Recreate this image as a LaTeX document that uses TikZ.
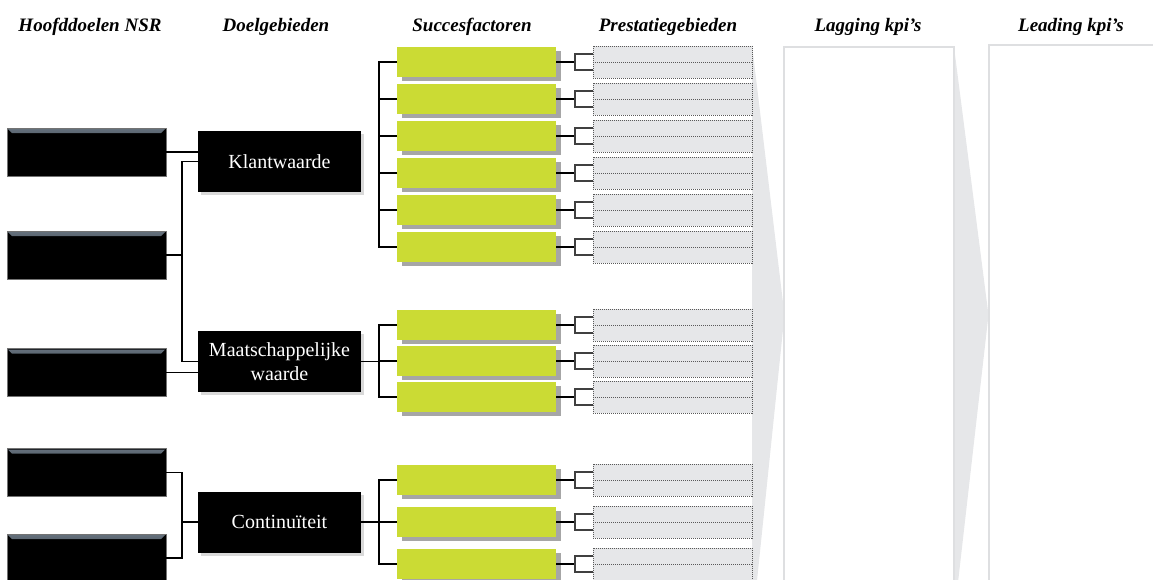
\documentclass[tikz,border=0pt]{standalone}
\usepackage{fontspec}
\setmainfont{Liberation Serif}
\usetikzlibrary{positioning,shadows}
\definecolor{lime}{HTML}{CBDB34}
\definecolor{mist}{HTML}{E6E7E9}
\definecolor{frame}{HTML}{DEDFE1}
\definecolor{bevel}{HTML}{66727E}
\tikzset{
  head/.style={font=\bfseries\itshape\fontsize{19}{22}\selectfont, anchor=base, inner sep=0pt},
  goal/.style={fill=black, draw=black!55, line width=0.7pt, minimum width=159pt, minimum height=48pt,
    path picture={\shade[top color=bevel, bottom color=black]
      ([xshift=1pt,yshift=-1pt]path picture bounding box.north west) -- ([xshift=-1pt,yshift=-1pt]path picture bounding box.north east)
      -- ([xshift=-5pt,yshift=-5pt]path picture bounding box.north east) -- ([xshift=5pt,yshift=-5pt]path picture bounding box.north west) -- cycle;}},
  area/.style={fill=black, text=white, align=center, font=\fontsize{20}{24}\selectfont, minimum width=163pt, minimum height=61pt,
    drop shadow={shadow xshift=3pt, shadow yshift=-3pt, opacity=0.3}},
  factor/.style={fill=lime, minimum width=159pt, minimum height=30pt,
    drop shadow={fill=black!35, shadow xshift=5pt, shadow yshift=-4pt, opacity=1}},
  field/.style={fill=mist, draw=black!65, dash pattern=on 1pt off 1pt, line width=0.7pt, minimum width=159pt, minimum height=32pt,
    path picture={\draw[black!65, dash pattern=on 1pt off 1pt, line width=0.7pt] (path picture bounding box.west) -- (path picture bounding box.east);}},
  panel/.style={fill=white, draw=frame, line width=1.5pt, anchor=north west},
  link/.style={line width=1.3pt},
  tick/.style={line width=1.1pt, draw=black!75}
}

\begin{document}
\begin{tikzpicture}[x=1pt, y=-1pt, inner sep=0pt, outer sep=0pt]
\useasboundingbox (0,0) rectangle (1153,579);
\clip (0,0) rectangle (1153,579);

% grey arrows behind the kpi columns
\fill[mist] (752,45) -- (784.5,315) -- (755,600) -- (752,600) -- cycle;
\fill[mist] (954,47) -- (988.5,315) -- (956,600) -- (954,600) -- cycle;
\node[panel, minimum width=170pt, minimum height=560pt] (lag) at (784,47) {};
\node[panel, minimum width=180pt, minimum height=560pt] (lead) at (989,45) {};

% column titles
\node[head] at (90,31) {Hoofddoelen NSR};
\node[head] at (276,31) {Doelgebieden};
\node[head] at (472,31) {Succesfactoren};
\node[head] at (668,31) {Prestatiegebieden};
\node[head] at (868,31) {Lagging kpi’s};
\node[head] at (1071,31) {Leading kpi’s};

% hoofddoelen
\node[goal] (hd1) at (86.5,152) {};
\node[goal] (hd2) at (86.5,255) {};
\node[goal] (hd3) at (86.5,372.5) {};
\node[goal] (hd4) at (86.5,472.5) {};
\node[goal] (hd5) at (86.5,558) {};

% doelgebieden
\node[area] (kw) at (279.5,161.5) {Klantwaarde};
\node[area] (mw) at (279.5,361.5) {Maatschappelijke\\waarde};
\node[area] (cw) at (279.5,522) {Continuïteit};

% succesfactoren
\node[factor] (f1) at (476.5,62) {};
\node[factor, below=7pt of f1] (f2) {};
\node[factor, below=7pt of f2] (f3) {};
\node[factor, below=7pt of f3] (f4) {};
\node[factor, below=7pt of f4] (f5) {};
\node[factor, below=7pt of f5] (f6) {};
\node[factor] (f7) at (476.5,325) {};
\node[factor, below=6pt of f7] (f8) {};
\node[factor, below=6pt of f8] (f9) {};
\node[factor] (f10) at (476.5,480) {};
\node[factor, below=12pt of f10] (f11) {};
\node[factor, below=12pt of f11] (f12) {};

% prestatiegebieden with their brackets
\foreach \i in {1,...,12} {
  \node[field, right=37pt of f\i] (p\i) {};
  \draw[link] (f\i.east) -- ++(19,0) coordinate (b\i);
  \draw[tick] ([yshift=8pt]p\i.west) -| (b\i) |- ([yshift=-8pt]p\i.west);
}

% hoofddoelen -> doelgebieden
\draw[link] (hd1.east) -- (hd1.east -| kw.west);
\draw[link] (kw.west) -- ++(-16,0) coordinate (s1) |- (mw.west);
\draw[link] (hd2.east) -- (hd2.east -| s1);
\draw[link] (hd3.east) -- (hd3.east -| mw.west);
\draw[link] (hd4.east) -- ++(16,0) coordinate (s2) |- (hd5.east);
\draw[link] (cw.west) -- (cw.west -| s2);

% doelgebieden -> succesfactoren
\draw[link] (f1.west) -- ++(-18,0) coordinate (t1) |- (f6.west);
\foreach \i in {2,...,5}
  \draw[link] (f\i.west) -- (f\i.west -| t1);
\draw[link] (f7.west) -- ++(-18,0) coordinate (t2) |- (f9.west);
\draw[link] (f8.west) -- (f8.west -| t2);
\draw[link] (mw.east) -- (mw.east -| t2);
\draw[link] (f10.west) -- ++(-18,0) coordinate (t3) |- (f12.west);
\draw[link] (f11.west) -- (f11.west -| t3);
\draw[link] (cw.east) -- (cw.east -| t3);
\end{tikzpicture}
\end{document}
